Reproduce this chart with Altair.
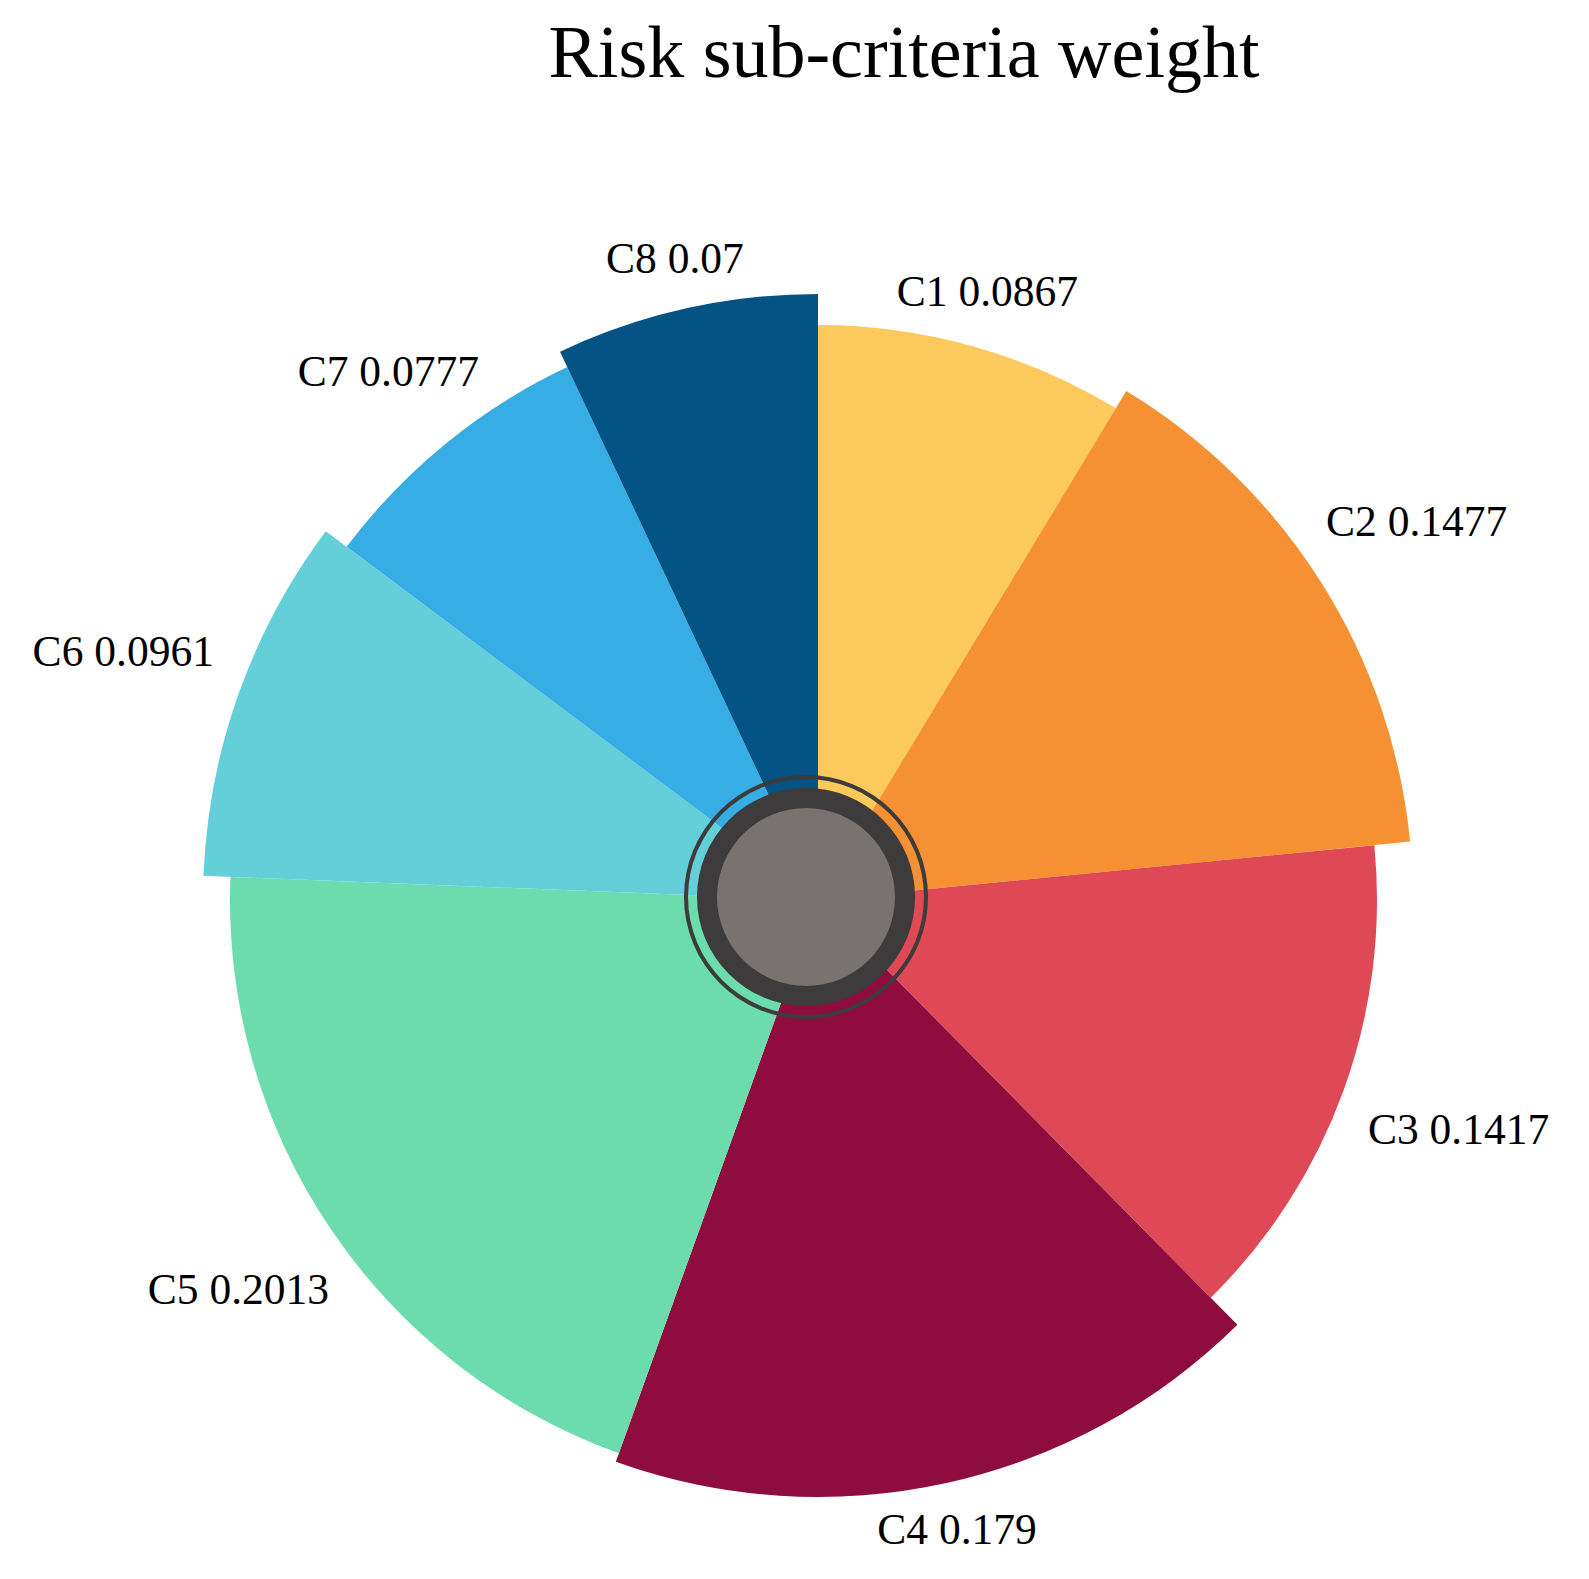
import math
import altair as alt
import pandas as pd

# ---- data ----
categories = ["C1", "C2", "C3", "C4", "C5", "C6", "C7", "C8"]
weights = [0.0867, 0.1477, 0.1417, 0.179, 0.2013, 0.0961, 0.0777, 0.07]
# outer reach of each petal (relative radial extent)
reach = [575, 595, 559, 597, 588, 615, 589, 606]
colors = ["#FCC95C", "#F59132", "#DE4955", "#8E0C3E",
          "#6CDCAE", "#63CFD8", "#37ADE5", "#045385"]

# ---- derived table (angles as fractions of the whole circle) ----
total = sum(weights)
ends = []
acc = 0.0
for w in weights:
    acc += w
    ends.append(acc / total)
starts = [0.0] + ends[:-1]
mids = [(s + e) / 2 for s, e in zip(starts, ends)]

df = pd.DataFrame({
    "cat": categories,
    "w": weights,
    "reach": reach,
    "start": starts,
    "end": ends,
    "mid": mids,
})
df["label"] = [f"{c} {w}" for c, w in zip(categories, weights)]

tscale = alt.Scale(type="linear", domain=[0, 1], range=[0, 2 * math.pi], zero=True)
rscale = alt.Scale(type="linear", domain=[0, 700], range=[0, 700], zero=True)

arcs = alt.Chart(df).mark_arc(stroke=None).encode(
    theta=alt.Theta("start:Q", scale=tscale, stack=None),
    theta2="end:Q",
    radius=alt.Radius("reach:Q", scale=rscale),
    color=alt.Color("cat:N", scale=alt.Scale(domain=categories, range=colors), legend=None),
)

labels = alt.Chart(df).transform_calculate(
    lr="datum.reach + 28 + 100 * abs(sin(datum.mid * 2 * PI))",
).mark_text(
    font="Liberation Serif", fontSize=43.5, align="center", baseline="middle", color="#000000"
).encode(
    theta=alt.Theta("mid:Q", scale=tscale, stack=None),
    radius=alt.Radius("lr:Q", scale=rscale),
    text="label:N",
)

hub = pd.DataFrame({"k": [0]})
TWO_PI = 2 * math.pi

thin_ring = alt.Chart(hub).mark_arc(
    theta=0, theta2=TWO_PI, radius=122, radius2=118, xOffset=-12, yOffset=-3
).encode(color=alt.value("#3D3B3B"))

dark_disk = alt.Chart(hub).mark_arc(
    theta=0, theta2=TWO_PI, radius=109, xOffset=-12, yOffset=-3
).encode(color=alt.value("#3D3B3B"))

gray_disk = alt.Chart(hub).mark_arc(
    theta=0, theta2=TWO_PI, radius=89, xOffset=-12, yOffset=-3
).encode(color=alt.value("#787371"))

chart = alt.layer(arcs, thin_ring, dark_disk, gray_disk, labels).properties(
    width=1400,
    height=1300,
    autosize=alt.AutoSizeParams(type="none"),
    padding={"left": 110, "top": 242, "right": 54, "bottom": 10},
    title=alt.TitleParams(
        text="Risk sub-criteria weight",
        font="Liberation Serif",
        fontSize=74,
        fontWeight="normal",
        color="#000000",
        anchor="middle",
        frame="group",
        dx=86,
        offset=145,
    ),
).configure_view(stroke=None)

chart.save("out.html", embed_options={"renderer": "svg", "actions": False})
